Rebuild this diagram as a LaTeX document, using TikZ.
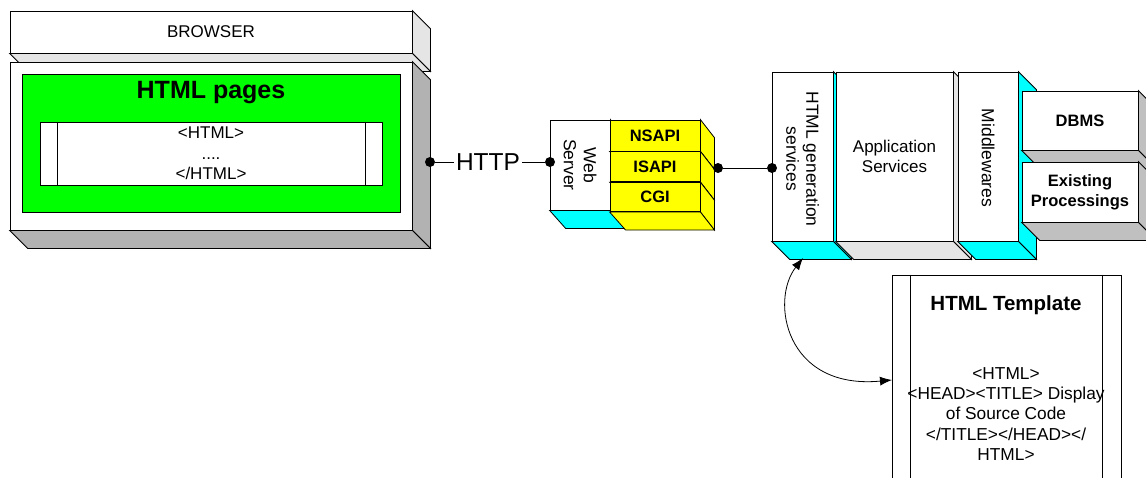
\documentclass[tikz,border=0pt]{standalone}
\usepackage{fontspec}
\setmainfont{Liberation Sans}
\usetikzlibrary{arrows, arrows.meta, positioning}
\usepackage{xcolor}
\definecolor{pagegreen}{HTML}{00FF00}
\definecolor{facecyan}{HTML}{00FFFF}
\definecolor{apiyellow}{HTML}{FFFF00}
\definecolor{darkside}{HTML}{B2B2B2}
\definecolor{lightside}{HTML}{E5E5E5}
\definecolor{dbside}{HTML}{C0C0C0}
\tikzset{
	block/.style={draw, fill=white, inner sep=0pt, align=center, font=\fontsize{17}{20}\selectfont},
	boldblock/.style={block, font=\bfseries\fontsize{16.5}{20}\selectfont},
	apiblock/.style={boldblock, fill=apiyellow, minimum width=90pt},
	turned/.style={rotate=-90, align=center, font=\fontsize{17.5}{20}\selectfont},
	dot/.style={circle, fill=black, inner sep=0pt, minimum size=10pt},
	link arrow/.style={{Latex[length=12pt,width=9pt]}-{Latex[length=12pt,width=9pt]}}
}
% side and bottom face of a box node
\newcommand{\extrude}[2]{%
	\filldraw[fill=#2] (#1.north east) -- ++(18,18) -- ([shift={(18,18)}]#1.south east) -- (#1.south east) -- cycle;
	\filldraw[fill=#2] (#1.south west) -- ++(18,18) -- ([shift={(18,18)}]#1.south east) -- (#1.south east) -- cycle;}
\newcommand{\extrudeapi}[2]{%
	\filldraw[fill=#2] (#1.north east) -- ++(14,18) -- ([shift={(14,18)}]#1.south east) -- (#1.south east) -- cycle;
	\filldraw[fill=#2] (#1.south west) -- ++(16,18) -- ([shift={(14,18)}]#1.south east) -- (#1.south east) -- cycle;}

\begin{document}
\begin{tikzpicture}[x=1pt, y=-1pt, line width=0.8pt]
	\useasboundingbox (0,0) rectangle (1146,477);
	\clip (0,0) rectangle (1146,477);

	% browser
	\node[block, minimum width=402pt, minimum height=42pt] (browser) at (211,32) {BROWSER};
	\extrude{browser}{lightside}
	\node[block, minimum width=402pt, minimum height=168pt] (client) at (211,146) {};
	\extrude{client}{darkside}
	\node[draw, fill=pagegreen, minimum width=378pt, minimum height=138pt] (pages) at (211,143) {};
	\node[font=\bfseries\fontsize{25}{28}\selectfont] (pagestitle) at (211,93) {HTML pages};
	\node[draw, fill=white, minimum width=342pt, minimum height=63pt] (page) at (211,153.5) {};
	\draw ([xshift=18pt]page.north west) -- ([xshift=18pt]page.south west);
	\draw ([xshift=-17pt]page.north east) -- ([xshift=-17pt]page.south east);
	\node[align=center, font=\fontsize{17}{20.5}\selectfont] (pagecode) at (page.center) {<HTML>\\....\\</HTML>};

	% web server
	\node[block, minimum width=60pt, minimum height=90pt] (web) at (580,165) {};
	\extrudeapi{web}{facecyan}
	\node[turned] (webtext) at (web.center) {Web\\Server};
	\node[apiblock, minimum height=31pt] (nsapi) at (655,135.5) {NSAPI};
	\extrudeapi{nsapi}{apiyellow}
	\node[apiblock, minimum height=30pt, below=0pt of nsapi] (isapi) {ISAPI};
	\extrudeapi{isapi}{apiyellow}
	\node[apiblock, minimum height=29pt, below=0pt of isapi] (cgi) {CGI};
	\extrudeapi{cgi}{apiyellow}

	% application server
	\node[block, minimum width=61pt, minimum height=169pt] (htmlgen) at (802.5,156.5) {};
	\extrude{htmlgen}{facecyan}
	\node[turned] (htmlgentext) at (802.5,159) {HTML generation\\services};
	\node[block, minimum width=117pt, minimum height=169pt] (appserv) at (894.5,156.5) {Application\\Services};
	\extrude{appserv}{lightside}
	\node[block, minimum width=60pt, minimum height=169pt] (middle) at (988,156.5) {};
	\extrude{middle}{facecyan}
	\node[turned] (middletext) at (988,158) {Middlewares};
	\node[boldblock, minimum width=116pt, minimum height=59pt] (dbms) at (1080,120.5) {DBMS};
	\extrude{dbms}{dbside}
	\node[boldblock, minimum width=116pt, minimum height=60pt] (existing) at (1080,192) {Existing\\Processings};
	\extrude{existing}{dbside}

	% template
	\node[draw, fill=white, minimum width=229pt, minimum height=225pt] (template) at (1006.5,387.5) {};
	\draw ([xshift=19pt]template.north west) -- ([xshift=19pt]template.south west);
	\draw ([xshift=-19pt]template.north east) -- ([xshift=-19pt]template.south east);
	\node[font=\bfseries\fontsize{20.5}{24}\selectfont] (templatetitle) at (1006,305) {HTML Template};
	\node[align=center, font=\fontsize{17.3}{20.3}\selectfont] (templatecode) at (1006,414)
		{<HTML>\\<HEAD><TITLE> Display\\of Source Code\\</TITLE></HEAD></\\HTML>};

	% connections
	\node[dot] (dotclient) at (430,162) {};
	\node[inner sep=2pt, font=\fontsize{24.5}{28}\selectfont] (http) at (488,162) {HTTP};
	\node[dot] (dotweb) at (550,162) {};
	\draw (dotclient) -- (http);
	\draw (http) -- (dotweb);
	\node[dot] (dotapi) at (718,168) {};
	\node[dot] (dotgen) at (772,168) {};
	\draw (dotapi) -- (dotgen);
	\coordinate (genfoot) at (803,258);
	\coordinate (templatein) at (892,380);
	\draw[link arrow] (genfoot) .. controls (770,300) and (785,390) .. (templatein);
\end{tikzpicture}
\end{document}
